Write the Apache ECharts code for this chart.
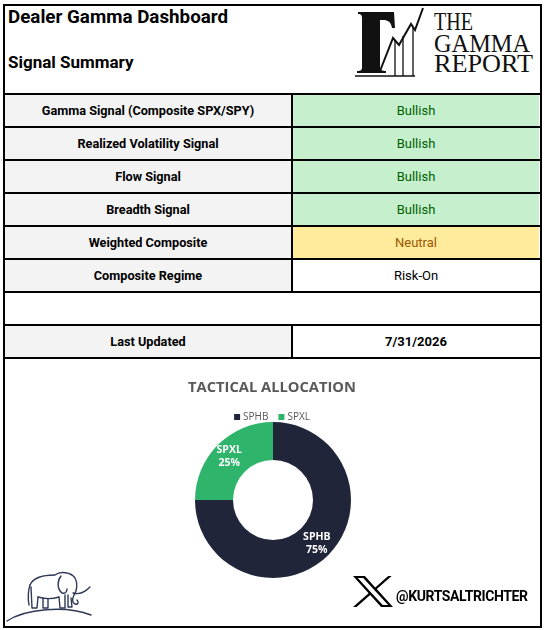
<!DOCTYPE html>
<html>
<head>
<meta charset="utf-8">
<title>Dealer Gamma Dashboard</title>
<script src="https://cdn.jsdelivr.net/npm/echarts@6/dist/echarts.min.js"></script>
<style>
  html, body { margin: 0; padding: 0; background: #fff; }
  body { width: 545px; height: 630px; position: relative; overflow: hidden; font-family: Roboto, "Noto Sans", sans-serif; }
  .abs { position: absolute; }
  .cell { position: absolute; display: flex; align-items: center; justify-content: center; color: #000; }
  .hline { position: absolute; height: 2px; background: #000; }
  .vline { position: absolute; width: 2px; background: #000; }
</style>
</head>
<body>
<div class="abs" style="left:3px;top:4px;width:539px;height:624px;border:2px solid #000;box-sizing:border-box;"></div>
<div class="abs" style="left:8px;top:6px;font-size:18.8px;font-weight:bold;">Dealer Gamma Dashboard</div>
<div class="abs" style="left:8px;top:52px;font-size:17px;font-weight:bold;">Signal Summary</div>

<!-- logo -->
<svg class="abs" style="left:345px;top:5px;" width="195" height="80" viewBox="0 0 195 80">
  <path d="M13 7 L49 7 L50 23 L47 23 C46 17 43 15 38 15 L35 15 L35 62 C35 65 37 66 41 66 L41 68 L12 68 L12 66 C16 66 17 65 17 62 L17 13 C17 10 16 9 13 9 Z" fill="#111"/>
  <polyline points="35,66 48,33 54,40 66,19 70,25 78,3" fill="none" stroke="#111" stroke-width="2"/>
  <line x1="50" y1="36" x2="50" y2="71" stroke="#111" stroke-width="1.3"/>
  <line x1="58" y1="31" x2="58" y2="71" stroke="#111" stroke-width="1.3"/>
  <line x1="68" y1="22" x2="68" y2="71" stroke="#111" stroke-width="1.3"/>
  <line x1="10" y1="71" x2="70" y2="71" stroke="#111" stroke-width="1.3"/>
  <text x="89" y="25" font-family="Liberation Serif" font-size="26" fill="#111" textLength="39" lengthAdjust="spacingAndGlyphs">THE</text>
  <text x="89" y="47" font-family="Liberation Serif" font-size="26" fill="#111" textLength="96" lengthAdjust="spacingAndGlyphs">GAMMA</text>
  <text x="89" y="67" font-family="Liberation Serif" font-size="26" fill="#111" textLength="99" lengthAdjust="spacingAndGlyphs">REPORT</text>
</svg>

<div id="tbl"></div>

<div id="chart" class="abs" style="left:5px;top:359px;width:534px;height:266px;"></div>

<!-- elephant -->
<svg class="abs" style="left:5px;top:565px;" width="90" height="60" viewBox="0 0 90 60">
  <g fill="none" stroke="#2f3a57" stroke-width="1.4" stroke-linejoin="round" stroke-linecap="round">
    <path d="M2 56 C20 44 60 40 86 50"/>
    <path d="M25 20 C28 13 38 10 50 10 C55 6 66 7 70 13 C73 18 72 26 69 30 C67 34 67 38 70 39 C73 40 74 37 72 35"/>
    <path d="M33 32 C40 34 48 34 54 32"/>
    <path d="M26 22 L27 43 L32 43 L33 32"/>
    <path d="M38 33 L38 43 L43 43 L43 34"/>
    <path d="M54 32 L55 43 L60 43 L60 30"/>
    <path d="M63 30 L63 42 L67 42 L66 33"/>
    <path d="M56 11 C52 16 52 24 57 28 C60 29 62 27 62 24"/>
    <path d="M68 28 C74 30 80 27 85 22"/>
    <path d="M25 20 C23 26 23 34 24 40"/>
  </g>
</svg>

<!-- X logo -->
<svg class="abs" style="left:353px;top:576px;" width="40" height="31" viewBox="0 0 1200 1227" preserveAspectRatio="none">
  <path fill="#000" d="M714.163 519.284L1160.89 0H1055.03L667.137 450.887L357.328 0H0L468.492 681.821L0 1226.37H105.866L515.491 750.218L842.672 1226.37H1200L714.163 519.284ZM569.165 687.828L521.697 619.934L144.011 79.6944H306.615L611.412 515.685L658.88 583.579L1055.08 1150.3H892.476L569.165 687.828Z"/>
</svg>
<div class="abs" style="left:396px;top:588px;font-size:14px;font-weight:bold;letter-spacing:-0.4px;">@KURTSALTRICHTER</div>

<script>
// signal table
var signalNames = ['Gamma Signal (Composite SPX/SPY)', 'Realized Volatility Signal', 'Flow Signal', 'Breadth Signal', 'Weighted Composite', 'Composite Regime', '', 'Last Updated'];
var signalValues = ['Bullish', 'Bullish', 'Bullish', 'Bullish', 'Neutral', 'Risk-On', '', '7/31/2026'];

// allocation donut
var allocNames = ['SPHB', 'SPXL'];
var allocValues = [75, 25];
var allocColors = ['#20253a', '#2fb56b'];

var styles = {
  'Bullish': { bg: '#c6efce', color: '#006100' },
  'Neutral': { bg: '#ffeb9c', color: '#9c5700' }
};

var tbl = document.getElementById('tbl');
var top0 = 93, rowH = 33, xL = 5, xM = 291, xR = 539;
var html = '';
for (var i = 0; i < signalNames.length; i++) {
  var y = top0 + rowH * i + 2;
  var h = rowH - 2;
  if (signalNames[i] === '') {
    continue;
  }
  var st = styles[signalValues[i]] || { bg: '#fff', color: '#000' };
  var bold = signalNames[i] === 'Last Updated' ? 'bold' : 'normal';
  html += '<div class="cell" style="left:' + xL + 'px;top:' + y + 'px;width:' + (xM - xL) + 'px;height:' + h + 'px;background:#f3f3f3;font-weight:bold;font-size:12.7px;">' + signalNames[i] + '</div>';
  html += '<div class="cell" style="left:' + (xM + 2) + 'px;top:' + y + 'px;width:' + (xR - xM - 2) + 'px;height:' + h + 'px;background:' + st.bg + ';color:' + st.color + ';font-weight:' + bold + ';font-size:13px;">' + signalValues[i] + '</div>';
  html += '<div class="vline" style="left:' + xM + 'px;top:' + (y - 2) + 'px;height:' + (rowH + 2) + 'px;"></div>';
}
for (var k = 0; k <= signalNames.length; k++) {
  html += '<div class="hline" style="left:' + (xL - 2) + 'px;top:' + (top0 + rowH * k) + 'px;width:' + (xR - xL + 4) + 'px;"></div>';
}
tbl.innerHTML = html;

var myChart = echarts.init(document.getElementById('chart'));
var pieData = [];
for (var j = 0; j < allocNames.length; j++) {
  pieData.push({ name: allocNames[j], value: allocValues[j], itemStyle: { color: allocColors[j] } });
}
var option = {
  animation: false,
  title: {
    text: 'TACTICAL ALLOCATION',
    left: 'center',
    top: 16,
    textStyle: { fontFamily: 'Open Sans', fontWeight: 'bold', fontSize: 14.7, color: '#595959' }
  },
  legend: {
    data: allocNames,
    top: 48,
    left: 'center',
    itemWidth: 6,
    itemHeight: 6,
    itemGap: 10,
    icon: 'rect',
    textStyle: { fontFamily: 'Open Sans', fontSize: 10, color: '#595959', padding: [0, 0, 0, -2] }
  },
  series: [{
    type: 'pie',
    center: [268, 141],
    radius: [40, 78],
    startAngle: 90,
    clockwise: true,
    itemStyle: { borderColor: '#fff', borderWidth: 0 },
    label: {
      show: true,
      position: 'inside',
      formatter: '{b}\n{d}%',
      color: '#fff',
      fontFamily: 'Open Sans',
      fontWeight: 'bold',
      fontSize: 10.5,
      lineHeight: 13
    },
    labelLine: { show: false },
    data: pieData
  }]
};
myChart.setOption(option);
</script>
</body>
</html>
